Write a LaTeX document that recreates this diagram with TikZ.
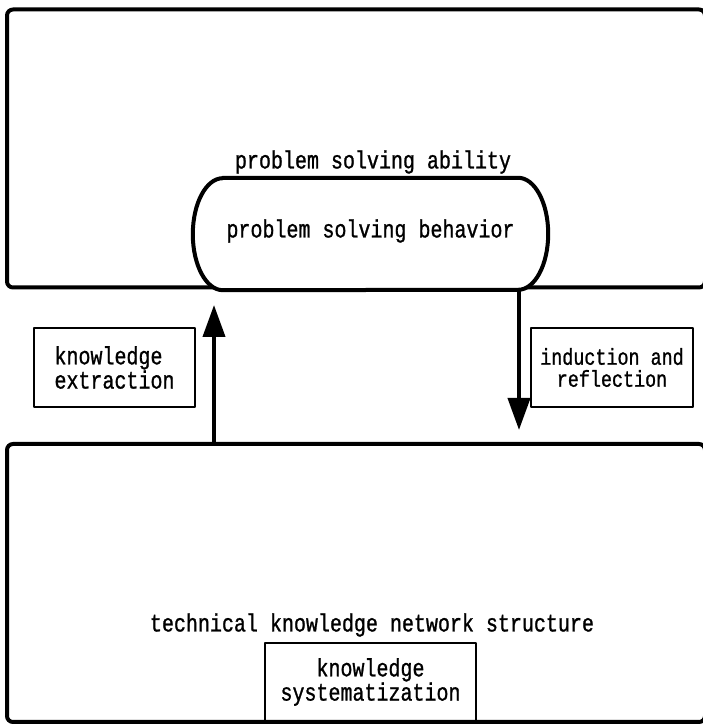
\documentclass[tikz,border=0pt]{standalone}
\usepackage{fontspec}
\setmonofont{Liberation Mono}[FakeStretch=0.8, FakeBold=1]
\usetikzlibrary{arrows.meta}
\begin{document}
\begin{tikzpicture}[x=1pt, y=1pt, line cap=round, line join=round, >={Triangle[width=22pt,length=32pt]}, font=\ttfamily\fontsize{25}{19}\selectfont]
	\tikzset{big box/.style={draw, line width=4pt, rounded corners=6pt, minimum width=698pt, minimum height=278pt, inner sep=0pt},
		tag box/.style={draw, line width=1.8pt, inner sep=0pt, align=center},
		flow/.style={->, line width=4pt}}
	\useasboundingbox (0,0) rectangle (703,725);
	\node[big box] (abil) at (356,576.5) {};
	\node[big box] (netw) at (356,142) {};
	% behaviour capsule
	\node[minimum width=355pt, minimum height=112pt, inner sep=0pt] (behav) at (370.5,491) {};
	\draw[line width=4pt, fill=white] ([xshift=30pt]behav.north west) -- ([xshift=-30pt]behav.north east)
		arc[start angle=90, end angle=-90, x radius=30pt, y radius=56pt] -- ([xshift=30pt]behav.south west)
		arc[start angle=270, end angle=90, x radius=30pt, y radius=56pt] -- cycle;
	\node at (370.5,494) {problem solving behavior};
	\node (ablab) at (373,563) {problem solving ability};
	\node (netlab) at (372,100) {technical knowledge network structure};
	\node[tag box, minimum width=161pt, minimum height=79pt, align=left] (extr) at (114.5,357.5) {knowledge\\extraction};
	\node[tag box, minimum width=162pt, minimum height=79pt, font=\ttfamily\fontsize{23}{22}\selectfont] (refl) at (612,357.5) {induction and\\reflection};
	\node[tag box, minimum width=211pt, minimum height=78pt] (syst) at (370.5,43) {knowledge\\systematization};
	\coordinate (uptip) at (214,420);
	\coordinate (dntip) at (519,295);
	\draw[flow] (netw.north -| uptip) -- (uptip);
	\draw[flow] (behav.south -| dntip) -- (dntip);
\end{tikzpicture}
\end{document}
